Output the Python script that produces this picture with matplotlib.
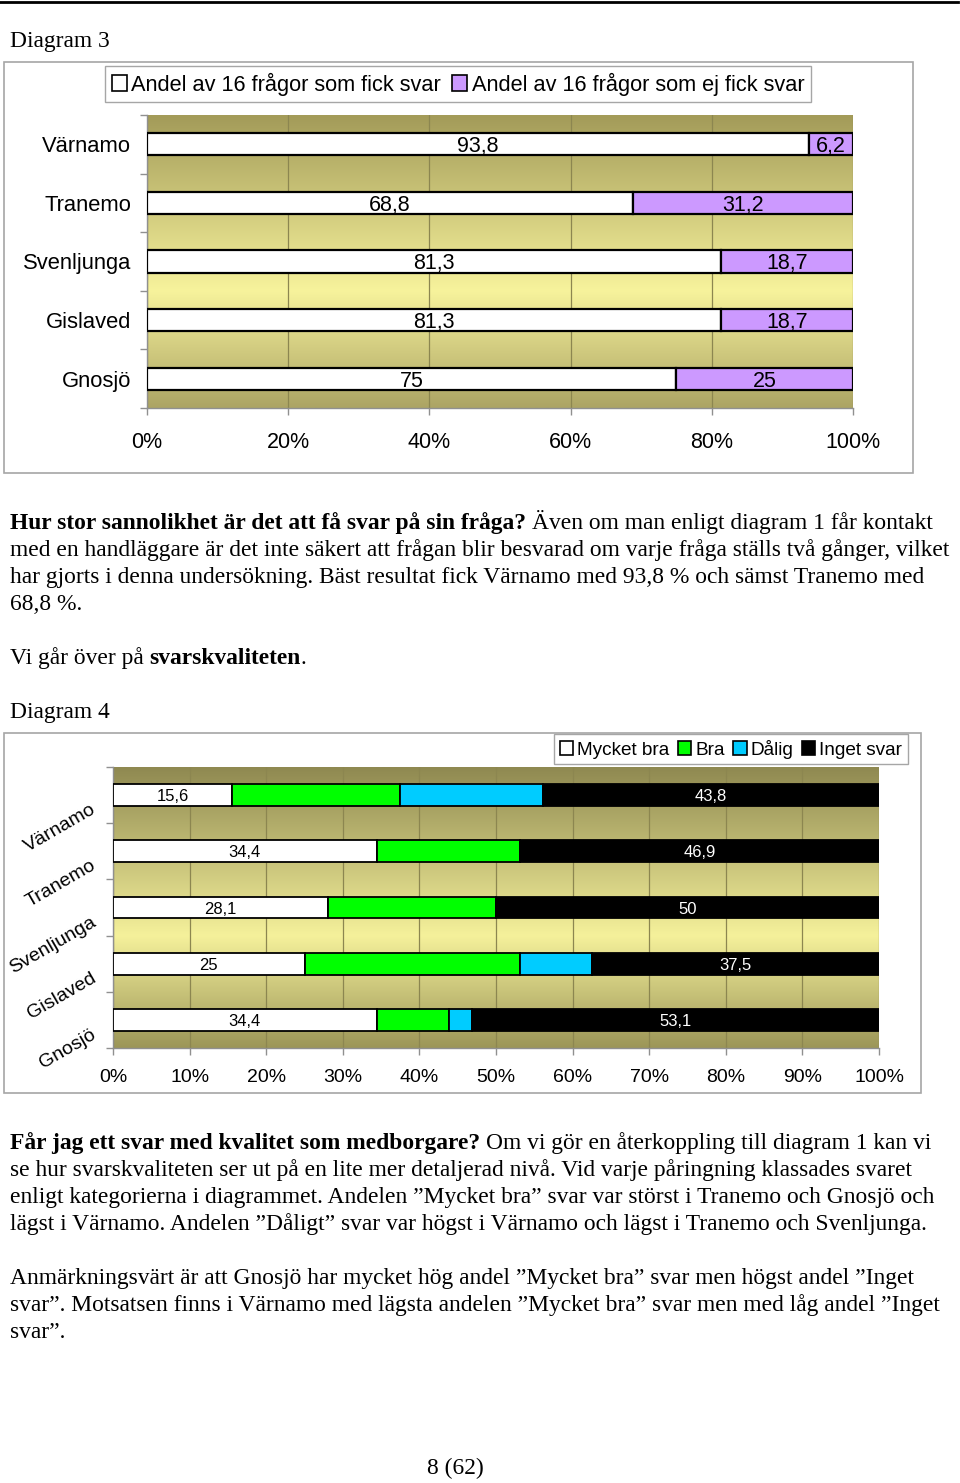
import matplotlib
matplotlib.use('Agg')
import matplotlib.pyplot as plt
import numpy as np
from matplotlib.colors import LinearSegmentedColormap
from matplotlib.patches import Rectangle, Patch
from matplotlib.lines import Line2D
import matplotlib.transforms as mtransforms

# ---------------- data ----------------
kommuner = ['Värnamo', 'Tranemo', 'Svenljunga', 'Gislaved', 'Gnosjö']
fick_svar = [93.8, 68.8, 81.3, 81.3, 75]
ej_fick_svar = [6.2, 31.2, 18.7, 18.7, 25]
legend1 = ['Andel av 16 frågor som fick svar', 'Andel av 16 frågor som ej fick svar']
ticks1 = [0, 20, 40, 60, 80, 100]

mycket_bra = [15.6, 34.4, 28.1, 25, 34.4]
bra = [21.9, 18.7, 21.9, 28.1, 9.4]
dalig = [18.7, 0, 0, 9.4, 3.1]
inget_svar = [43.8, 46.9, 50, 37.5, 53.1]
legend2 = ['Mycket bra', 'Bra', 'Dålig', 'Inget svar']
ticks2 = [0, 10, 20, 30, 40, 50, 60, 70, 80, 90, 100]

W, H = 960, 1483
fig = plt.figure(figsize=(W / 100, H / 100), dpi=100)
renderer = fig.canvas.get_renderer()

def fx(px):
    return px / W

def fy(py):
    return 1 - py / H

SANS = 'Liberation Sans'
SERIF = 'Liberation Serif'

def fmt(v):
    return f"{v:g}".replace('.', ',')

def grad_bg(ax, top, mid, bottom, midpos=0.6):
    cmap = LinearSegmentedColormap.from_list('g', [(0, top), (midpos, mid), (1, bottom)])
    g = np.linspace(0, 1, 256).reshape(-1, 1)
    ax.imshow(g, extent=[0, 100, len(kommuner) - 0.5, -0.5], aspect='auto', cmap=cmap,
              zorder=0, interpolation='bilinear')

def frame(x0, y0, x1, y1, color='#a6a6a6'):
    fig.add_artist(Rectangle((fx(x0), fy(y1)), fx(x1) - fx(x0), fy(y0) - fy(y1),
                             transform=fig.transFigure, fill=False, edgecolor=color, lw=1.2))

# top rule
fig.add_artist(Line2D([0, fx(958)], [fy(2), fy(2)], color='black', lw=2, transform=fig.transFigure))

# ---------------- chart 1 ----------------
frame(4, 62, 913, 473)
ax1 = fig.add_axes([fx(147), fy(408), fx(853) - fx(147), (408 - 115) / H])
grad_bg(ax1, '#a39b59', '#f7f39c', '#aca464', 0.6)
y = np.arange(len(kommuner))
bh = 0.38
ax1.barh(y, fick_svar, height=bh, color='white', edgecolor='black', lw=1.6, zorder=3)
ax1.barh(y, ej_fick_svar, left=fick_svar, height=bh, color='#cc99ff', edgecolor='black', lw=1.6, zorder=3)
for i in range(len(kommuner)):
    ax1.text(fick_svar[i] / 2, i, fmt(fick_svar[i]), ha='center', va='center_baseline',
             fontsize=15.5, family=SANS, zorder=4)
    ax1.text(fick_svar[i] + ej_fick_svar[i] / 2, i, fmt(ej_fick_svar[i]), ha='center', va='center_baseline',
             fontsize=15.5, family=SANS, zorder=4)
ax1.set_xlim(0, 100)
ax1.set_ylim(len(kommuner) - 0.5, -0.5)
ax1.set_xticks(ticks1)
ax1.set_xticklabels([f"{t}%" for t in ticks1], fontsize=15.5, family=SANS)
ax1.set_yticks(y)
ax1.set_yticklabels(kommuner, fontsize=15.8, family=SANS)
ax1.set_yticks(np.arange(-0.5, len(kommuner), 1), minor=True)
ax1.tick_params(axis='y', which='major', length=0, pad=11.5)
ax1.tick_params(axis='y', which='minor', length=5, color='#909090', width=1)
ax1.tick_params(axis='x', length=5, color='#909090', width=1, pad=12)
ax1.grid(axis='x', color='#8c8650', lw=0.9, zorder=1)
ax1.set_axisbelow(True)
for s in ['top', 'right']:
    ax1.spines[s].set_visible(False)
for s in ['left', 'bottom']:
    ax1.spines[s].set_color('#909090')
    ax1.spines[s].set_linewidth(1)

h1 = [Patch(facecolor='white', edgecolor='black', lw=1.2), Patch(facecolor='#cc99ff', edgecolor='black', lw=1.2)]
leg1 = fig.legend(h1, legend1, loc='center', bbox_to_anchor=(fx(458), fy(84)), ncol=2,
                  prop={'family': SANS, 'size': 15.7}, frameon=True, fancybox=False, edgecolor='#a6a6a6',
                  framealpha=1, handlelength=0.7, handleheight=0.7, handletextpad=0.2,
                  columnspacing=0.5, borderpad=0.3, borderaxespad=0)
leg1.get_frame().set_linewidth(1)

# ---------------- chart 2 ----------------
frame(4, 733, 921, 1093)
ax2 = fig.add_axes([fx(113), fy(1048), fx(879) - fx(113), (1048 - 767) / H])
grad_bg(ax2, '#8f8951', '#f5f19b', '#9c9658', 0.6)
bh2 = 0.39
left = np.zeros(len(kommuner))
cols = ['white', '#00ff00', '#00ccff', 'black']
for vals, c in zip([mycket_bra, bra, dalig, inget_svar], cols):
    vals = np.array(vals, dtype=float)
    ax2.barh(y, vals, left=left, height=bh2, color=c, edgecolor='black', lw=1.3, zorder=3)
    left = left + vals
for i in range(len(kommuner)):
    ax2.text(mycket_bra[i] / 2, i, fmt(mycket_bra[i]), ha='center', va='center_baseline',
             fontsize=12, family=SANS, zorder=4)
    start = mycket_bra[i] + bra[i] + dalig[i]
    ax2.text(start + inget_svar[i] / 2, i, fmt(inget_svar[i]), ha='center', va='center_baseline', fontsize=12,
             family=SANS, color='white', zorder=4)
ax2.set_xlim(0, 100)
ax2.set_ylim(len(kommuner) - 0.5, -0.5)
ax2.set_xticks(ticks2)
ax2.set_xticklabels([f"{t}%" for t in ticks2], fontsize=14, family=SANS)
ax2.set_yticks(np.arange(-0.5, len(kommuner), 1))
ax2.set_yticklabels([])
ax2.tick_params(axis='y', length=5, color='#909090', width=1)
ax2.tick_params(axis='x', length=5, color='#909090', width=1, pad=10)
ax2.grid(axis='x', color='#8c8650', lw=0.9, zorder=1)
ax2.set_axisbelow(True)
for s in ['top', 'right']:
    ax2.spines[s].set_visible(False)
for s in ['left', 'bottom']:
    ax2.spines[s].set_color('#909090')
    ax2.spines[s].set_linewidth(1)
trans = mtransforms.blended_transform_factory(ax2.transAxes, ax2.transData)
for i, k in enumerate(kommuner):
    ax2.text(-0.024, i + 0.24, k, transform=trans, rotation=30, rotation_mode='anchor',
             ha='right', va='center', fontsize=14, family=SANS, clip_on=False)

h2 = [Patch(facecolor=c, edgecolor='black', lw=1.2) for c in cols]
leg2 = fig.legend(h2, legend2, loc='center', bbox_to_anchor=(fx(731), fy(749)), ncol=4,
                  prop={'family': SANS, 'size': 13.7}, frameon=True, fancybox=False, edgecolor='#a6a6a6',
                  framealpha=1, handlelength=0.7, handleheight=0.7, handletextpad=0.2,
                  columnspacing=0.45, borderpad=0.3, borderaxespad=0)
leg2.get_frame().set_linewidth(1)

# ---------------- body text ----------------
BODY = 16.9

def seg_width(txt, bold):
    t = fig.text(0, 0, txt, fontsize=BODY, family=SERIF, weight='bold' if bold else 'normal')
    w = t.get_window_extent(renderer=renderer).width
    t.remove()
    return w

space_w = seg_width('x x', False) - seg_width('xx', False)

def rich_line(x_px, y_center_px, segments):
    x = x_px
    base = y_center_px + 6
    last = None
    for n, (txt, bold, sp) in enumerate(segments):
        if n > 0 and sp:
            x += space_w
        last = fig.text(fx(x), fy(base), txt, fontsize=BODY, family=SERIF,
                        weight='bold' if bold else 'normal', va='baseline', ha='left')
        x = last.get_window_extent(renderer=renderer).x1
    return last

rich_line(10, 41, [('Diagram 3', False, True)])
rich_line(10, 523, [('Hur stor sannolikhet är det att få svar på sin fråga?', True, True),
                    ('Även om man enligt diagram 1 får kontakt', False, True)])
rich_line(10, 550, [('med en handläggare är det inte säkert att frågan blir besvarad om varje fråga ställs två gånger, vilket', False, True)])
rich_line(10, 577, [('har gjorts i denna undersökning. Bäst resultat fick Värnamo med 93,8 % och sämst Tranemo med', False, True)])
rich_line(10, 604, [('68,8 %.', False, True)])
rich_line(10, 658, [('Vi går över på', False, True), ('svarskvaliteten', True, True), ('.', False, False)])
rich_line(10, 712, [('Diagram 4', False, True)])
rich_line(10, 1143, [('Får jag ett svar med kvalitet som medborgare?', True, True),
                     ('Om vi gör en återkoppling till diagram 1 kan vi', False, True)])
rich_line(10, 1170, [('se hur svarskvaliteten ser ut på en lite mer detaljerad nivå. Vid varje påringning klassades svaret', False, True)])
rich_line(10, 1197, [('enligt kategorierna i diagrammet. Andelen ”Mycket bra” svar var störst i Tranemo och Gnosjö och', False, True)])
rich_line(10, 1224, [('lägst i Värnamo. Andelen ”Dåligt” svar var högst i Värnamo och lägst i Tranemo och Svenljunga.', False, True)])
rich_line(10, 1278, [('Anmärkningsvärt är att Gnosjö har mycket hög andel ”Mycket bra” svar men högst andel ”Inget', False, True)])
rich_line(10, 1305, [('svar”. Motsatsen finns i Värnamo med lägsta andelen ”Mycket bra” svar men med låg andel ”Inget', False, True)])
rich_line(10, 1332, [('svar”.', False, True)])
fig.text(fx(455), fy(1468 + 6), '8 (62)', fontsize=BODY, family=SERIF, ha='center', va='baseline')

fig.savefig('out.png', dpi=100, facecolor='white')
